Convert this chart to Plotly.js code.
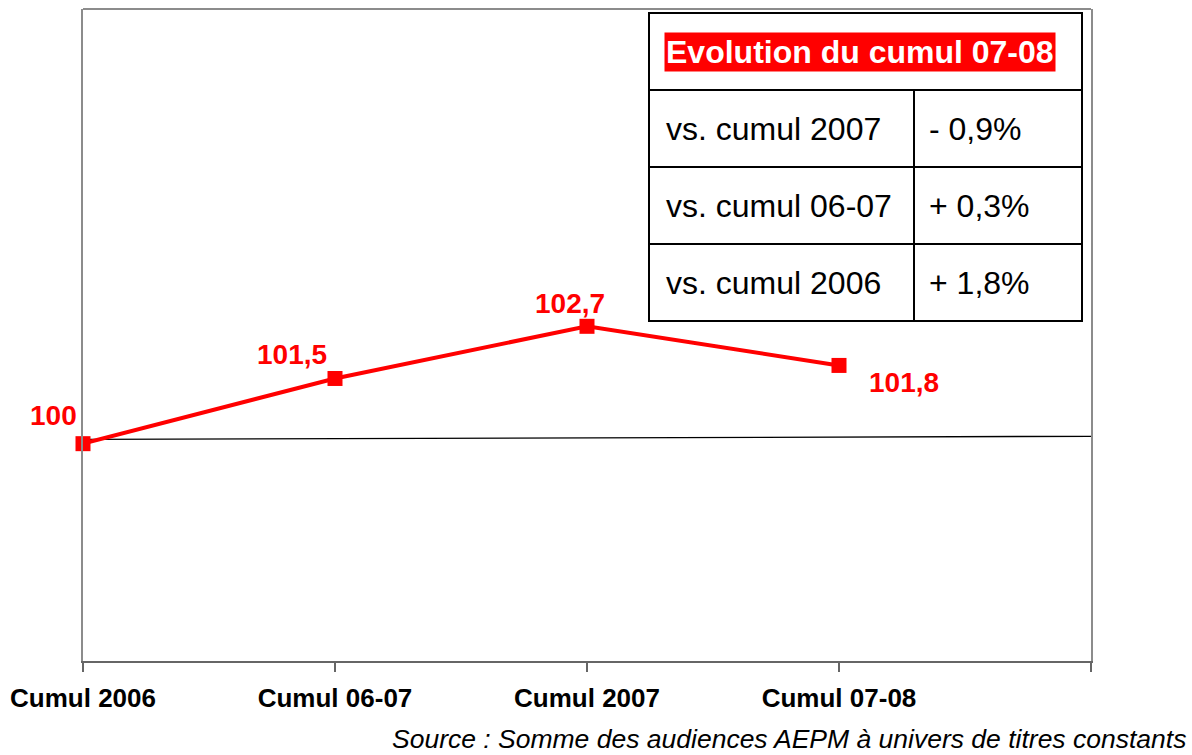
<!DOCTYPE html>
<html>
<head>
<meta charset="utf-8">
<script src="https://cdn.plot.ly/plotly-3.0.1.min.js"></script>
<style>html,body{margin:0;padding:0;background:#fff;}#chart{width:1192px;height:755px;}</style>
</head>
<body>
<div id="chart"></div>
<script>
// ---- data ----
const categories = ["Cumul 2006", "Cumul 06-07", "Cumul 2007", "Cumul 07-08"];
const values = [100, 101.5, 102.7, 101.8];
const valueLabels = ["100", "101,5", "102,7", "101,8"];
const baseline = [100.1, 100.17];
const tableTitle = "Evolution du cumul 07-08";
const tableRows = ["vs. cumul 2007", "vs. cumul 06-07", "vs. cumul 2006"];
const tableValues = ["- 0,9%", "+ 0,3%", "+ 1,8%"];
const sourceText = "Source : Somme des audiences AEPM à univers de titres constants";

// ---- layout helpers ----
const W = 1192, H = 755;
const M = {l: 83, r: 101, t: 9, b: 94};
const PW = W - M.l - M.r, PH = H - M.t - M.b;
const px = x => (x - M.l) / PW;
const py = y => (H - M.b - y) / PH;

const labelShift = [[-30, 28], [-43, 24], [-17, 23], [65, -17]];
const xIdx = categories.map((c, i) => i);
const FONT = "Liberation Sans, Arial, sans-serif";

const trace = {
  x: xIdx, y: values, type: "scatter", mode: "lines+markers",
  line: {color: "#ff0000", width: 4},
  marker: {symbol: "square", size: 15, color: "#ff0000"},
  cliponaxis: false, hoverinfo: "skip"
};

const annotations = [];
values.forEach((v, i) => {
  annotations.push({
    x: xIdx[i], y: v, xref: "x", yref: "y", text: valueLabels[i], showarrow: false,
    xshift: labelShift[i][0], yshift: labelShift[i][1],
    font: {family: FONT, size: 28, color: "#ff0000", weight: "bold"}
  });
});

// table geometry (pixels)
const tX = [649, 914, 1082];
const tY = [13, 90, 167, 244, 321];
const shapes = [];
const lw = 2;
shapes.push({type: "rect", xref: "paper", yref: "paper", x0: px(tX[0]), x1: px(tX[2]), y0: py(tY[0]), y1: py(tY[4]),
  line: {color: "#000", width: lw}, fillcolor: "#fff", layer: "above"});
for (let k = 1; k < 4; k++) {
  shapes.push({type: "line", xref: "paper", yref: "paper", x0: px(tX[0]), x1: px(tX[2]), y0: py(tY[k]), y1: py(tY[k]),
    line: {color: "#000", width: lw}, layer: "above"});
}
shapes.push({type: "line", xref: "paper", yref: "paper", x0: px(tX[1]), x1: px(tX[1]), y0: py(tY[1]), y1: py(tY[4]),
  line: {color: "#000", width: lw}, layer: "above"});
// top border of the plot frame
shapes.push({type: "line", xref: "paper", yref: "paper", x0: 0, x1: 1, y0: 1, y1: 1, line: {color: "#8c8c8c", width: 2}});
// reference line
shapes.push({type: "line", xref: "x", yref: "y", x0: 0.02, x1: 4.01, y0: baseline[0], y1: baseline[1],
  line: {color: "#000", width: 1.3}, layer: "below"});

annotations.push({
  xref: "paper", yref: "paper", x: px(664), y: py(52), xanchor: "left", yanchor: "middle",
  text: tableTitle, showarrow: false, bgcolor: "#ff0000", borderpad: 1,
  font: {family: FONT, size: 32, color: "#ffffff", weight: "bold"}
});
tableRows.forEach((r, i) => {
  const yc = (tY[i + 1] + tY[i + 2]) / 2;
  annotations.push({xref: "paper", yref: "paper", x: px(664), y: py(yc), xanchor: "left", yanchor: "middle",
    text: r, showarrow: false, font: {family: FONT, size: 32, color: "#000"}});
  annotations.push({xref: "paper", yref: "paper", x: px(927), y: py(yc), xanchor: "left", yanchor: "middle",
    text: tableValues[i], showarrow: false, font: {family: FONT, size: 32, color: "#000"}});
});
annotations.push({
  xref: "paper", yref: "paper", x: px(1187), y: py(739), xanchor: "right", yanchor: "middle",
  text: "<i>" + sourceText + "</i>", showarrow: false, borderpad: 0,
  font: {family: FONT, size: 26.5, color: "#000"}
});

const layout = {
  width: W, height: H, margin: M, showlegend: false,
  paper_bgcolor: "#fff", plot_bgcolor: "#fff",
  xaxis: {
    range: [0, 4], tickvals: [0, 1, 2, 3, 4], ticktext: categories.concat([""]),
    showgrid: false, zeroline: false, showline: true, linecolor: "#666", linewidth: 2,
    ticks: "outside", ticklen: 9, tickwidth: 2, tickcolor: "#666",
    ticklabelstandoff: 4,
    tickfont: {family: FONT, size: 26, color: "#000", weight: "bold"}
  },
  yaxis: {
    range: [95, 110], showgrid: false, zeroline: false, showticklabels: false, ticks: "",
    showline: true, linecolor: "#8c8c8c", linewidth: 2, mirror: true
  },
  shapes: shapes, annotations: annotations
};

Plotly.newPlot("chart", [trace], layout, {staticPlot: true});
</script>
</body>
</html>
